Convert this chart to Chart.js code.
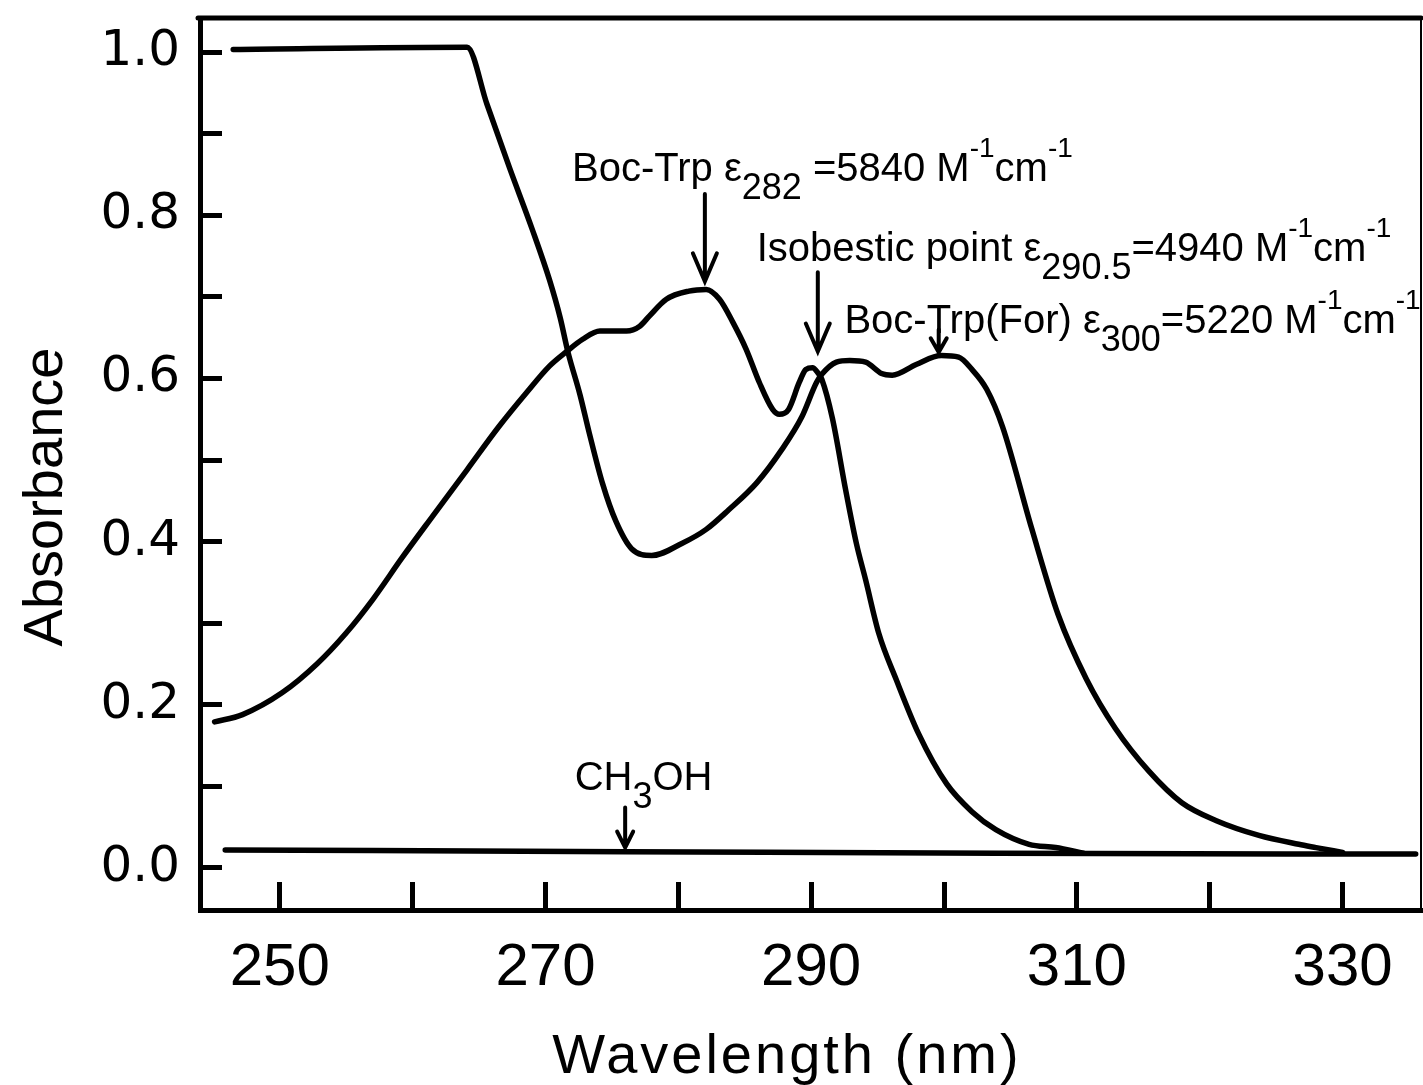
<!DOCTYPE html>
<html>
<head>
<meta charset="utf-8">
<script src="https://cdn.jsdelivr.net/npm/chart.js@4.4.1/dist/chart.umd.min.js"></script>
<style>
  html, body { margin: 0; padding: 0; background: #fff; }
  canvas { display: block; }
</style>
</head>
<body>
<canvas id="spectrum" width="1423" height="1085"></canvas>
<script>
// Boc-Trp(For) - wavelength (nm) / absorbance
const forWavelength = [246.5, 264.1, 265.6, 267.3, 269.0, 270.3, 271.1, 271.7, 272.6, 273.3, 274.3, 275.3, 276.5, 278.0,
  280.3, 282.1, 283.8, 285.9, 287.8, 289.3, 290.4, 290.8, 291.9, 292.9, 294.1, 295.3, 296.1, 297.9, 299.8, 301.1,
  302.1, 303.2, 304.4, 306.6, 308.6, 310.7, 312.9, 315.4, 317.9, 320.5, 323.7, 326.7, 328.0, 330.0];
const forAbsorbance = [1.003, 1.006, 0.936, 0.858, 0.783, 0.721, 0.675, 0.632, 0.580, 0.533, 0.471, 0.425, 0.391, 0.383,
  0.398, 0.415, 0.439, 0.472, 0.513, 0.553, 0.595, 0.605, 0.620, 0.622, 0.620, 0.606, 0.604, 0.617, 0.628, 0.626,
  0.611, 0.587, 0.541, 0.416, 0.310, 0.232, 0.171, 0.119, 0.080, 0.058, 0.040, 0.029, 0.025, 0.019];

// Boc-Trp
const trpWavelength = [245.1, 247.2, 250.2, 252.8, 255.0, 257.0, 259.2, 261.5, 264.1, 266.5, 268.6, 270.3, 271.6, 272.8,
  274.1, 276.1, 277.1, 277.8, 279.1, 280.8, 282.1, 283.1, 284.1, 285.1, 286.1, 287.1, 287.6, 288.3, 289.1, 289.6,
  290.1, 290.5, 290.8, 291.6, 292.6, 293.4, 294.1, 295.1, 296.4, 298.1, 300.2, 302.1, 303.9, 306.4, 308.4, 310.5];
const trpAbsorbance = [0.179, 0.188, 0.215, 0.250, 0.288, 0.329, 0.380, 0.431, 0.488, 0.541, 0.583, 0.615, 0.633, 0.648,
  0.658, 0.658, 0.664, 0.676, 0.697, 0.707, 0.709, 0.697, 0.669, 0.636, 0.595, 0.562, 0.556, 0.562, 0.595, 0.611,
  0.613, 0.607, 0.599, 0.551, 0.463, 0.398, 0.353, 0.287, 0.231, 0.164, 0.103, 0.069, 0.047, 0.029, 0.025, 0.018];

// CH3OH blank
const meohWavelength = [245.9, 276.0, 304.1, 335.5];
const meohAbsorbance = [0.022, 0.020, 0.018, 0.017];

const xTickValues = [250, 260, 270, 280, 290, 300, 310, 320, 330];
const xTickLabels = ['250', '', '270', '', '290', '', '310', '', '330'];
const yTickValues = [0, 0.1, 0.2, 0.3, 0.4, 0.5, 0.6, 0.7, 0.8, 0.9, 1.0];
const yTickLabels = ['0.0', '', '0.2', '', '0.4', '', '0.6', '', '0.8', '', '1.0'];

function toPoints(xs, ys) {
  return xs.map((x, i) => ({x: x, y: ys[i]}));
}

// text pieces: 0 normal, -1 subscript, 1 superscript
const notes = [
  {nm: 272.0, abs: 0.842, parts: [['Boc-Trp ', 0], ['\u03b5', 0], ['282', -1], [' =5840 M', 0], ['-1', 1], ['cm', 0], ['-1', 1]]},
  {nm: 285.9, abs: 0.744, parts: [['Isobestic point ', 0], ['\u03b5', 0], ['290.5', -1], ['=4940 M', 0], ['-1', 1], ['cm', 0], ['-1', 1]]},
  {nm: 292.5, abs: 0.656, parts: [['Boc-Trp(For) ', 0], ['\u03b5', 0], ['300', -1], ['=5220 M', 0], ['-1', 1], ['cm', 0], ['-1', 1]]},
  {nm: 272.2, abs: 0.096, parts: [['CH', 0], ['3', -1], ['OH', 0]]}
];
const arrows = [
  {nm: 282.0, top: 0.826, tip: 0.719, w: 12, h: 28},
  {nm: 290.5, top: 0.730, tip: 0.633, w: 12, h: 28},
  {nm: 299.6, top: 0.660, tip: 0.632, w: 8, h: 14},
  {nm: 276.0, top: 0.074, tip: 0.025, w: 8, h: 16}
];

const labelFont = '"Liberation Sans", Arial, sans-serif';

function drawParts(ctx, x, y, parts) {
  parts.forEach(p => {
    let size = 40, dy = 0;
    if (p[1] < 0) { size = 36; dy = 18; }
    if (p[1] > 0) { size = 28; dy = -24; }
    ctx.font = size + 'px ' + labelFont;
    ctx.fillText(p[0], x, y + dy);
    x += ctx.measureText(p[0]).width;
  });
}

const extras = {
  id: 'extras',
  afterDraw(chart) {
    const ctx = chart.ctx;
    const xs = chart.scales.x, ys = chart.scales.y, a = chart.chartArea;
    ctx.save();
    ctx.strokeStyle = '#000';
    ctx.fillStyle = '#000';
    ctx.lineCap = 'round';

    // frame top and right
    ctx.lineWidth = 5;
    ctx.beginPath();
    ctx.moveTo(a.left - 2, a.top);
    ctx.lineTo(a.right, a.top);
    ctx.stroke();
    ctx.lineWidth = 2;
    ctx.beginPath();
    ctx.moveTo(a.right, a.top);
    ctx.lineTo(a.right, a.bottom);
    ctx.stroke();

    // annotations
    ctx.textBaseline = 'alphabetic';
    ctx.textAlign = 'left';
    notes.forEach(n => drawParts(ctx, xs.getPixelForValue(n.nm), ys.getPixelForValue(n.abs), n.parts));

    ctx.lineWidth = 4;
    arrows.forEach(r => {
      const x = xs.getPixelForValue(r.nm);
      const y1 = ys.getPixelForValue(r.top), y2 = ys.getPixelForValue(r.tip);
      ctx.beginPath();
      ctx.moveTo(x, y1);
      ctx.lineTo(x, y2);
      ctx.moveTo(x - r.w, y2 - r.h);
      ctx.lineTo(x, y2);
      ctx.lineTo(x + r.w, y2 - r.h);
      ctx.stroke();
    });

    // axis titles
    ctx.font = '56px ' + labelFont;
    ctx.textAlign = 'center';
    if ('letterSpacing' in ctx) ctx.letterSpacing = '3px';
    ctx.fillText('Wavelength (nm)', 787, 1073);
    ctx.letterSpacing = '0px';
    ctx.translate(62, 497);
    ctx.rotate(-Math.PI / 2);
    ctx.fillText('Absorbance', 0, 0);
    ctx.restore();
  }
};

const lineStyle = {
  borderColor: '#000',
  borderWidth: 5.5,
  pointRadius: 0,
  fill: false,
  cubicInterpolationMode: 'monotone',
  borderJoinStyle: 'round',
  borderCapStyle: 'round'
};

new Chart(document.getElementById('spectrum'), {
  type: 'line',
  data: {
    datasets: [
      Object.assign({label: 'Boc-Trp(For)', data: toPoints(forWavelength, forAbsorbance)}, lineStyle),
      Object.assign({label: 'Boc-Trp', data: toPoints(trpWavelength, trpAbsorbance)}, lineStyle),
      Object.assign({label: 'CH3OH', data: toPoints(meohWavelength, meohAbsorbance)}, lineStyle)
    ]
  },
  options: {
    responsive: false,
    animation: false,
    layout: {padding: {top: 18, right: 2, left: 0, bottom: 0}},
    plugins: {legend: {display: false}, tooltip: {enabled: false}},
    scales: {
      x: {
        type: 'linear',
        min: 244.0,
        max: 335.9,
        afterBuildTicks: s => { s.ticks = xTickValues.map(v => ({value: v})); },
        afterFit: s => { s.height = 175; s.paddingLeft = 0; s.paddingRight = 0; },
        border: {color: '#000', width: 5},
        grid: {drawOnChartArea: false, drawTicks: true, tickLength: -28, color: '#000', lineWidth: 5},
        ticks: {
          padding: 50,
          color: '#000',
          font: {family: labelFont, size: 60},
          maxRotation: 0,
          autoSkip: false,
          callback: (v, i) => xTickLabels[i]
        }
      },
      y: {
        min: -0.0515,
        max: 1.0417,
        afterBuildTicks: s => { s.ticks = yTickValues.map(v => ({value: v})); },
        afterFit: s => { s.width = 200; s.paddingTop = 0; s.paddingBottom = 0; },
        border: {color: '#000', width: 5},
        grid: {drawOnChartArea: false, drawTicks: true, tickLength: -22, color: '#000', lineWidth: 5},
        ticks: {
          padding: 42,
          color: '#000',
          font: {family: '"DejaVu Sans", sans-serif', size: 50},
          autoSkip: false,
          callback: (v, i) => yTickLabels[i]
        }
      }
    }
  },
  plugins: [extras]
});
</script>
</body>
</html>
